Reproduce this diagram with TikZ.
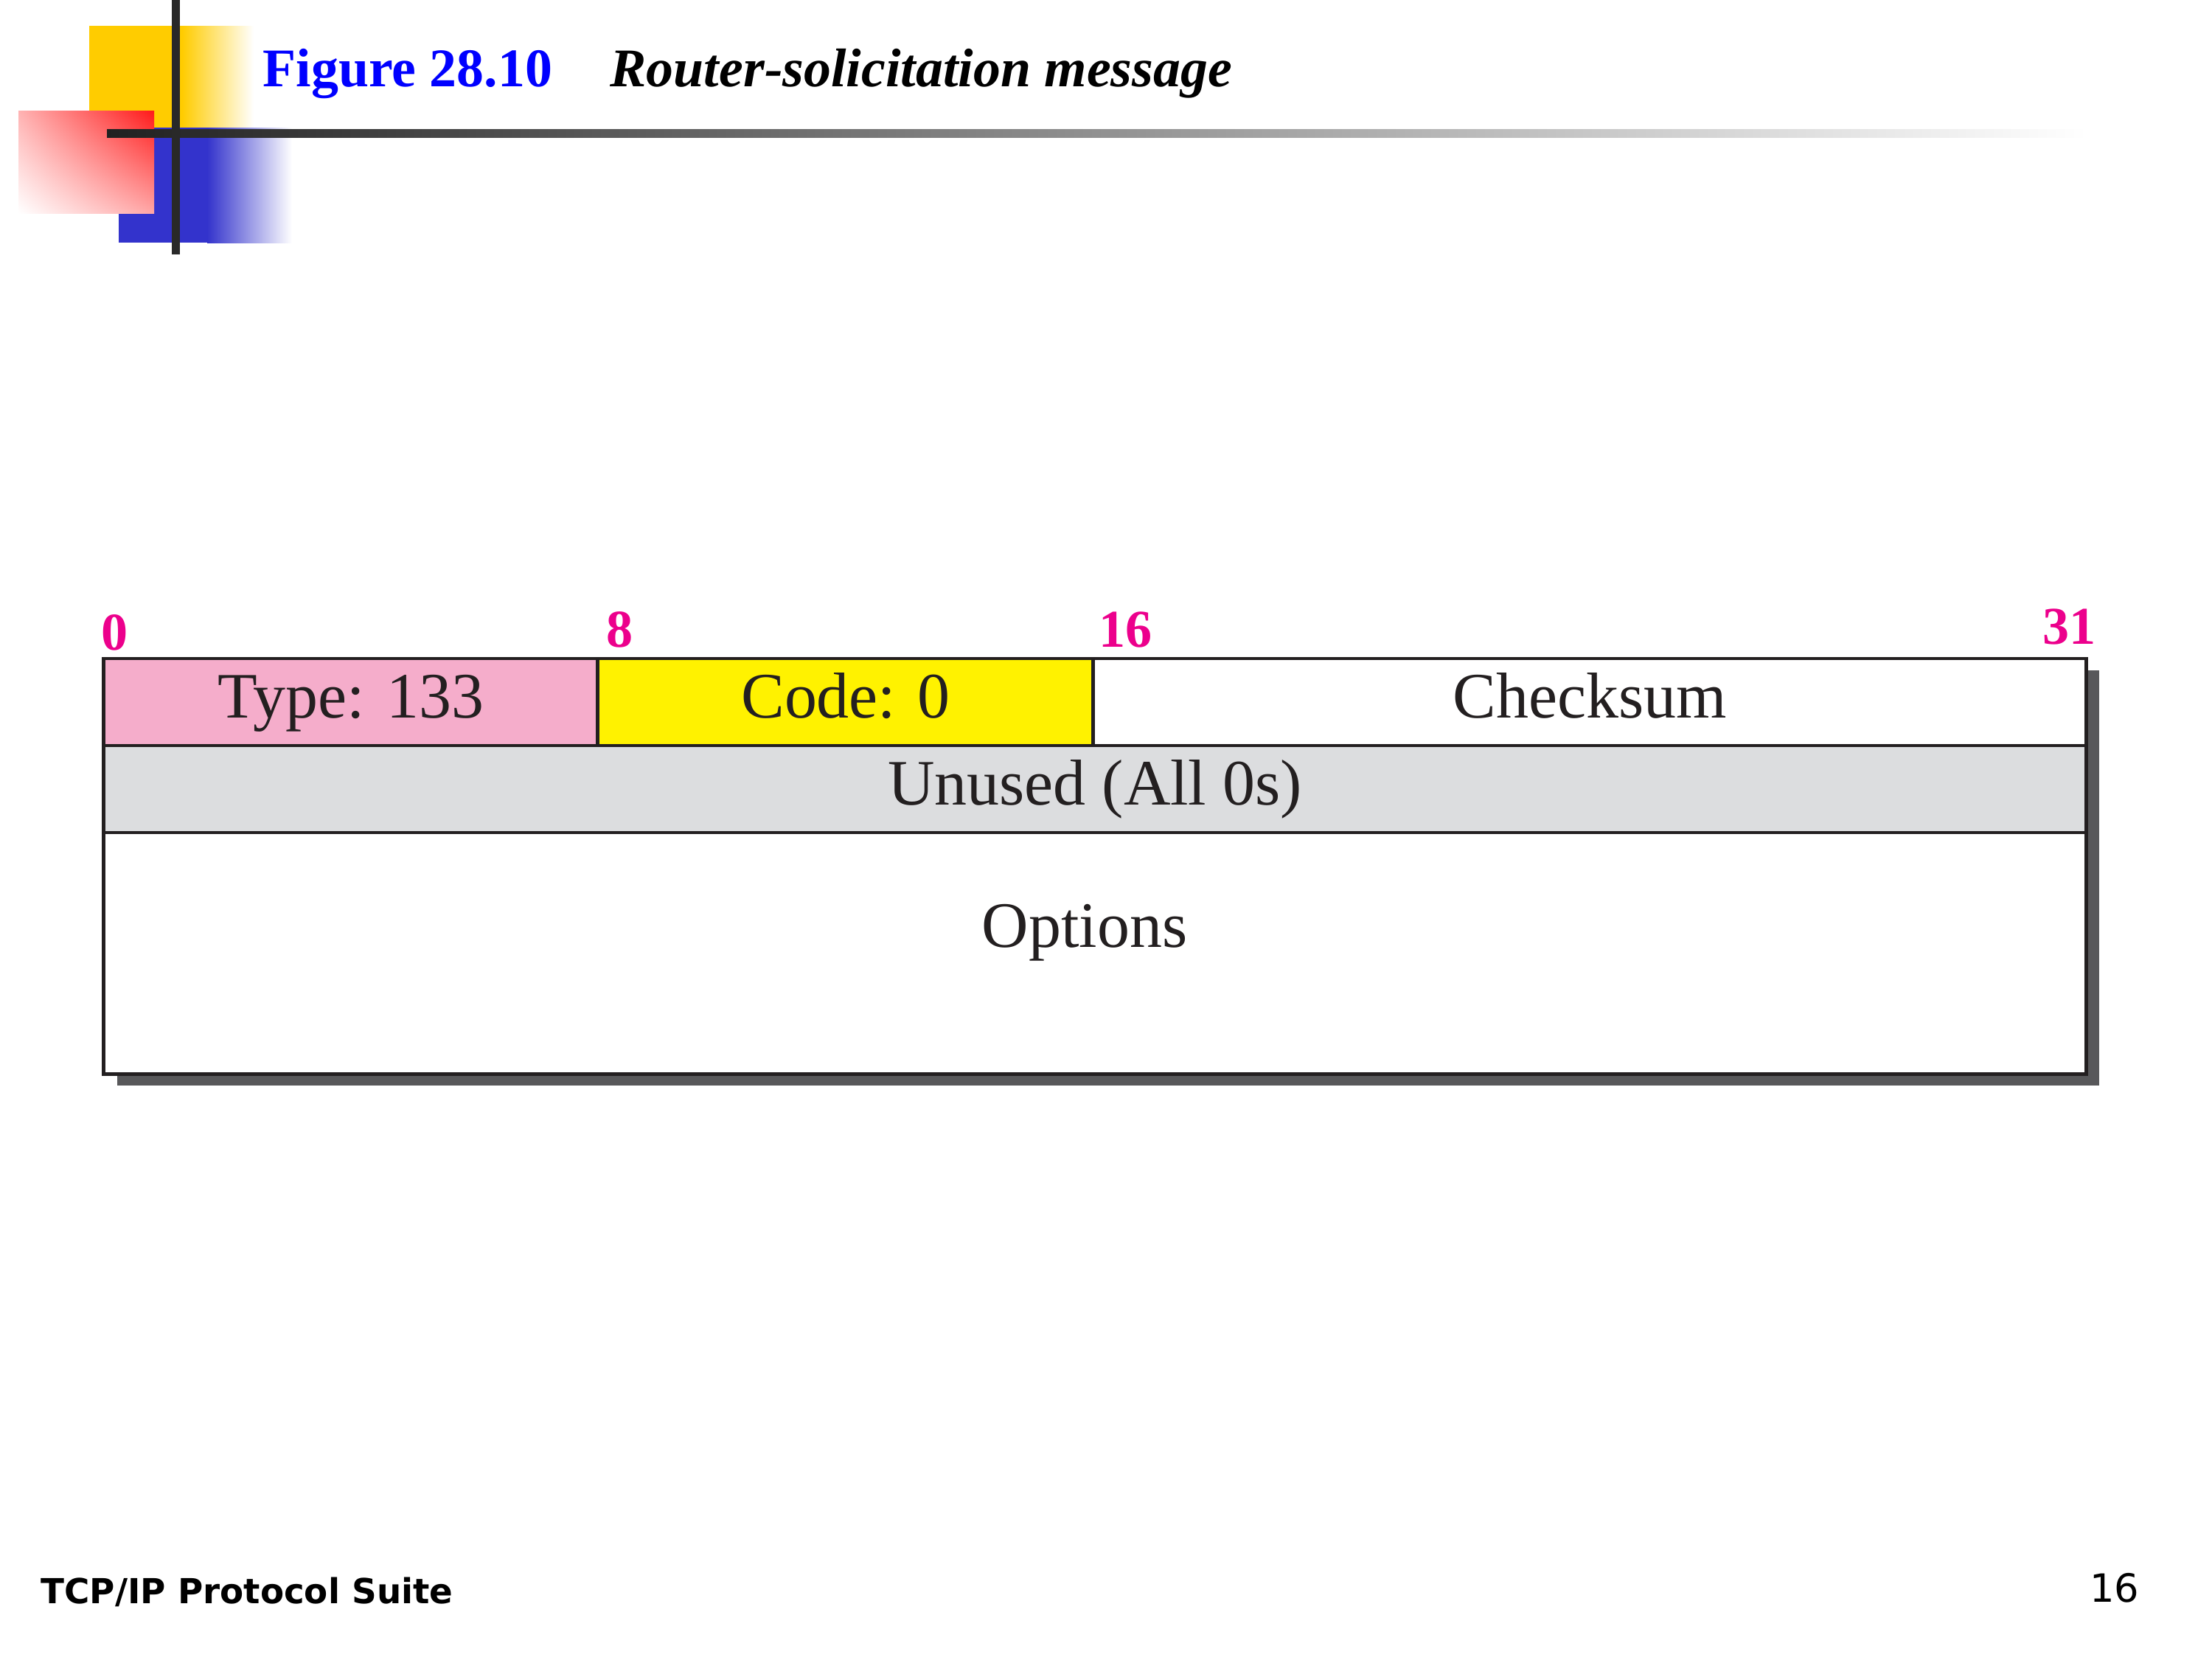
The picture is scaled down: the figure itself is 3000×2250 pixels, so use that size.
\documentclass[tikz,border=0pt]{standalone}
\usepackage{fontspec}
\setmainfont{Liberation Serif}
\newfontfamily\footfont{DejaVu Sans}
\usepackage{tikz}
\usetikzlibrary{shadings}
\definecolor{typepink}{HTML}{F5ADCB}
\definecolor{codeyellow}{HTML}{FFF200}
\definecolor{unusedgray}{HTML}{DCDDDF}
\definecolor{bitpink}{HTML}{EC008C}
\definecolor{boxline}{HTML}{231F20}
\definecolor{shadowgray}{HTML}{58585A}
\definecolor{titleblue}{HTML}{0000FF}
\definecolor{logoyellow}{HTML}{FFCC00}
\definecolor{logoblue}{HTML}{3333CC}

\begin{document}
\begin{tikzpicture}[x=0.01cm,y=-0.01cm,
  cell/.style={draw=boxline, line width=1.35pt, inner sep=0pt, outer sep=0pt,
    text=boxline, font=\fontsize{25}{30}\selectfont, text height=18pt, text depth=6pt},
  bitnum/.style={inner sep=0pt, text=bitpink, font=\fontsize{20.5}{24}\selectfont\bfseries}]
\useasboundingbox (0,0) rectangle (3000,2250);

% 1. logo
\fill[logoyellow] (121,35) rectangle (247,173);
\shade[left color=logoyellow, right color=white] (247,35) rectangle (344,173);
\fill[logoblue] (161,173) rectangle (281,329);
\shade[left color=logoblue, right color=white] (281,173) rectangle (396,329);
\shade[upper left=red!30, upper right=red!90, lower left=white, lower right=red!35] (25,150) rectangle (209,289);
\shade[left color=black!87, middle color=black!34, right color=white] (145,175) rectangle (2830,186);
\fill[black!84] (233,0) rectangle (244,345);

% 2. title
\node[anchor=base west, inner sep=0pt, text=titleblue, font=\fontsize{21}{25}\selectfont\bfseries] (fignum) at (356,117) {Figure 28.10};
\node[anchor=base west, inner sep=0pt, font=\fontsize{21}{25}\selectfont\bfseries\itshape] (figtitle) at (827,117) {Router-solicitation message};

% 3. message format
\fill[shadowgray] (159,909) rectangle (2847,1472);
\node[cell, fill=typepink, minimum width=6.70cm, minimum height=1.18cm] (type) at (476,952) {Type: 133};
\node[cell, fill=codeyellow, minimum width=6.72cm, minimum height=1.18cm] (code) at (1147,952) {Code: 0};
\node[cell, fill=white, minimum width=13.46cm, minimum height=1.18cm] (check) at (2156,952) {Checksum};
\node[cell, fill=unusedgray, minimum width=26.88cm, minimum height=1.18cm] (unused) at (1485,1070) {Unused (All 0s)};
\node[cell, fill=white, minimum width=26.88cm, minimum height=3.27cm] (options) at (1485,1292.5) {};
\node[cell, draw=none] (optname) at (1471,1263) {Options};

\node[bitnum, anchor=base west] (b0) at ([shift={(-4,-11)}]type.north west) {0};
\node[bitnum, anchor=base west] (b8) at ([shift={(11,-15)}]type.north east) {8};
\node[bitnum, anchor=base west] (b16) at ([shift={(7,-15)}]code.north east) {16};
\node[bitnum, anchor=base east] (b31) at ([shift={(14,-19)}]check.north east) {31};

% 4. footer
\node[anchor=base west, inner sep=0pt, font=\footfont\fontsize{13.3}{16}\selectfont\bfseries] (suite) at (55,2174) {TCP/IP Protocol Suite};
\node[anchor=base east, inner sep=0pt, font=\footfont\fontsize{15}{18}\selectfont] (pagenum) at (2902,2172) {16};
\end{tikzpicture}
\end{document}
